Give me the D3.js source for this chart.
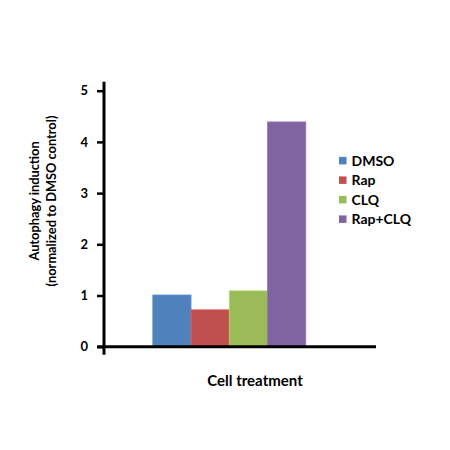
<!DOCTYPE html>
<html>
<head>
<meta charset="utf-8">
<script src="https://cdn.jsdelivr.net/npm/d3@7"></script>
<style>
  body { margin: 0; background: #fff; }
  text { font-family: Lato, "Open Sans", sans-serif; font-weight: bold; fill: #000; }
</style>
</head>
<body>
<div id="chart"></div>
<script>
"use strict"

// data
var categories = ['Cell treatment'];
var seriesNames = ['DMSO', 'Rap', 'CLQ', 'Rap+CLQ'];
var seriesValues = [1.01, 0.72, 1.09, 4.39];
var seriesColors = ['#4f81bd', '#c0504d', '#9bbb59', '#8064a2'];
var yTicks = [0, 1, 2, 3, 4, 5];

var width = 450, height = 450;
var svg = d3.select('#chart')
    .append('svg')
    .attr('width', width)
    .attr('height', height);

// scales
var x0 = d3.scaleBand()
    .domain(categories)
    .range([104, 376])
    .paddingInner(0)
    .paddingOuter(0.389)
    .align(0.41);
var x1 = d3.scaleBand()
    .domain(seriesNames)
    .range([0, x0.bandwidth()])
    .padding(0);
var y = d3.scaleLinear()
    .domain([0, 5])
    .range([346.7, 90.7]);

// bars
var group = svg.append('g')
    .selectAll('g')
    .data(categories)
    .enter()
    .append('g')
    .attr('transform', function(c) { return 'translate(' + x0(c) + ',0)'; });
group.selectAll('rect')
    .data(seriesNames.map(function(n, i) { return {name: n, value: seriesValues[i], color: seriesColors[i]}; }))
    .enter()
    .append('rect')
    .attr('x', function(d) { return x1(d.name); })
    .attr('y', function(d) { return y(d.value); })
    .attr('width', x1.bandwidth())
    .attr('height', function(d) { return y(0) - y(d.value); })
    .attr('fill', function(d) { return d.color; })
    .attr('stroke', function(d) { return d3.color(d.color).brighter(0.4); })
    .attr('stroke-width', 0.8);

// y axis
var yAxis = svg.append('g')
    .attr('transform', 'translate(104,0)')
    .call(d3.axisLeft(y).tickValues(yTicks).tickSize(7).tickPadding(9).tickFormat(d3.format('d')));
yAxis.select('.domain').remove();
yAxis.selectAll('line').attr('stroke', '#000').attr('stroke-width', 2.5);
yAxis.selectAll('text').style('font-size', '13px');
svg.append('line')
    .attr('x1', 104).attr('x2', 104)
    .attr('y1', y(5) - 9).attr('y2', y(0) + 8)
    .attr('stroke', '#000').attr('stroke-width', 3);

// x axis
svg.append('line')
    .attr('x1', 97).attr('x2', 376)
    .attr('y1', y(0)).attr('y2', y(0))
    .attr('stroke', '#000').attr('stroke-width', 3);
svg.append('text')
    .attr('x', 255)
    .attr('y', 386)
    .attr('text-anchor', 'middle')
    .style('font-size', '15px')
    .text(categories[0]);

// y title
var yTitle = svg.append('text')
    .attr('transform', 'translate(0,201) rotate(-90)')
    .attr('text-anchor', 'middle')
    .style('font-size', '12.8px');
yTitle.append('tspan').attr('x', 0).attr('y', 39).text('Autophagy induction');
yTitle.append('tspan').attr('x', 0).attr('y', 56).text('(normalized to DMSO control)');

// legend
var legend = svg.append('g')
    .selectAll('g')
    .data(seriesNames)
    .enter()
    .append('g')
    .attr('transform', function(d, i) { return 'translate(339,' + (160.7 + i * 19.5) + ')'; });
legend.append('rect')
    .attr('x', 0).attr('y', -3.8)
    .attr('width', 7.5).attr('height', 7.5)
    .attr('fill', function(d, i) { return seriesColors[i]; });
legend.append('text')
    .attr('x', 12.5)
    .attr('y', 5)
    .style('font-size', '14px')
    .text(function(d) { return d; });
</script>
</body>
</html>
